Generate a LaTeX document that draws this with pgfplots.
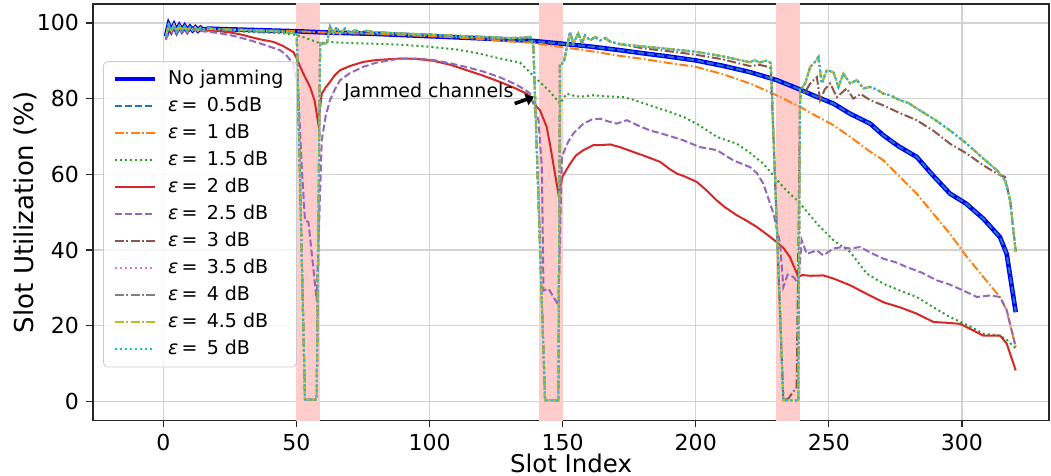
\documentclass[border=0pt]{standalone}
\usepackage{fontspec}
\setmainfont{DejaVu Sans}
\usepackage{pgfplots}
\pgfplotsset{compat=1.18}
\usepackage{pgfplotstable}
\usetikzlibrary{arrows.meta}

\definecolor{c0}{HTML}{1F77B4}
\definecolor{c1}{HTML}{FF7F0E}
\definecolor{c2}{HTML}{2CA02C}
\definecolor{c3}{HTML}{D62728}
\definecolor{c4}{HTML}{9467BD}
\definecolor{c5}{HTML}{8C564B}
\definecolor{c6}{HTML}{E377C2}
\definecolor{c7}{HTML}{7F7F7F}
\definecolor{c8}{HTML}{BCBD22}
\definecolor{c9}{HTML}{17BECF}
\definecolor{spancol}{RGB}{255,204,204}
\definecolor{gridcol}{RGB}{210,210,210}

% no jamming (also eps = 0.5 dB)
\pgfplotstableread{
x y
1 96.5
2 99.5
3 98.0
4 99.4
5 97.8
6 99.2
7 98.0
8 99.1
9 97.9
10 98.9
11 98.1
12 98.8
13 98.0
14 98.7
15 98.2
17 98.5
20 98.4
30 98.2
40 98.0
50 97.8
60 97.5
70 97.3
80 97.1
90 96.8
100 96.5
110 96.2
120 95.9
130 95.6
138 95.3
150 94.5
160 93.8
171.5 92.8
180 92.0
190 91.1
200 90.1
210 88.7
220.4 87.0
230.4 84.9
239.2 82.4
245 80.6
251.7 78.7
258 76.0
265.5 73.4
270.5 70.3
276 67.5
283 64.6
289 59.8
295.5 54.9
301.5 52.3
308 48.3
314.3 43.4
316.8 39.0
320.2 23.6
}\tabN

% eps = 1 dB
\pgfplotstableread{
x y
1 96.5
2 99.5
3 98.0
4 99.4
5 97.8
6 99.2
7 98.0
8 99.1
9 97.9
10 98.9
11 98.1
12 98.8
13 98.0
14 98.7
15 98.2
17 98.5
20 98.4
30 98.2
40 98.0
50 97.8
60 97.5
70 97.3
80 97.1
90 96.8
100 96.5
110 96.2
120 95.7
130 95.1
138 94.8
145 94.1
150 93.6
160 92.6
171.5 91.3
180 90.5
190 89.4
200 88.4
210 86.5
220.4 84.0
230 81.0
239.2 77.8
245 75.5
251.7 73.0
258 69.9
265.5 66.0
270.5 63.7
276 59.8
283 54.9
289 49.8
295.5 44.3
301.5 38.5
308 32.9
314.3 27.6
316.8 24.0
320.2 14.4
}\tabO

% eps = 1.5 dB
\pgfplotstableread{
x y
1 96.5
2 99.4
3 97.8
4 99.3
5 97.7
6 99.1
7 97.9
8 99.0
9 97.8
10 98.8
12 98.6
14 98.4
16 98.2
20 98.1
25 97.9
32.6 97.6
40 97.4
46.4 97.2
50 96.8
54 95.9
58.9 94.6
61.4 95.0
66 94.8
73.9 94.6
80 94.5
90 94.2
100 93.7
110 93.0
118 92.0
126.5 90.6
134 89.5
139 86.0
145 82.0
149 78.7
151.5 81.3
155 80.6
157.8 80.6
161.5 80.9
166 80.6
172.8 80.4
177 79.6
182.8 78.2
189 76.8
195.3 75.2
201 73.1
207.9 69.9
215.4 68.1
220 65.9
225.4 62.8
232.9 56.6
239.2 52.3
245.5 47.0
251.7 42.6
258 39.5
264.2 33.8
270.5 31.1
276 29.5
283 27.6
289 25.0
295.5 22.3
302 20.2
308 17.9
314.3 17.4
316.8 16.3
320.2 14.0
}\tabG

% eps = 2 dB
\pgfplotstableread{
x y
1 95.8
2 99.1
3 97.5
4 99.0
5 97.4
6 98.9
7 97.7
8 98.8
9 97.6
10 98.6
12 98.4
14 98.2
16 98.0
20 97.9
25.1 97.5
30 96.8
32.6 96.3
36 95.7
41.3 95.0
45 93.9
48.8 92.3
50 90.8
51.4 88.4
53 86.0
55.1 83.1
56.8 79.5
58.2 73.4
59.5 81.3
61 83.0
62.6 84.4
64.5 86.3
66.4 87.5
70 88.6
75.1 89.7
80 90.2
88.9 90.6
95 90.5
101.4 90.0
108 88.9
114 87.5
120 86.1
126.5 84.4
132 82.8
136.5 81.3
140.3 77.8
141.5 76.9
144 72.5
145.2 68.1
148.4 54.9
150 59.5
152.8 62.8
155 65.0
157.8 66.4
161.5 67.7
164.1 67.7
167.8 67.9
171.5 67.2
176.6 65.9
181 64.8
186.6 63.3
190 61.5
192.9 60.2
196 59.4
200.4 58.0
204 55.8
207.9 53.1
211 51.3
215.4 49.2
219 47.8
222.9 46.1
227 44.0
230.4 42.1
233 40.5
235.4 38.1
238.5 32.9
240 33.4
243 33.2
247.9 33.3
252 32.4
258 30.7
264 28.5
270.5 26.2
277 24.8
283 23.2
289.3 21.0
294 20.8
299.3 20.5
303 19.2
308 17.4
314.3 17.4
316.8 15.3
320.2 8.2
}\tabR

% eps = 2.5 dB
\pgfplotstableread{
x y
1 95.5
2 98.9
3 97.3
4 98.9
5 97.2
6 98.7
7 97.5
8 98.6
9 97.4
10 98.4
12 98.1
14 97.9
16 97.7
20 97.4
25 96.8
30 95.9
32.6 95.4
38 94.2
43.8 92.8
46 91.6
48.8 89.3
50.7 81.3
52 61.9
53.2 47.8
54.5 47.4
57.6 26.7
59.5 69.0
61 75.5
62.6 79.6
64.5 82.5
66.4 84.9
70 86.7
75.1 88.4
80 89.5
88.9 90.6
95 90.6
101.4 90.2
108 89.3
114 88.3
120 87.2
126.5 85.6
132 83.9
136 82.3
137.8 81.3
140.9 74.3
142.2 61.9
142.8 29.3
144.7 29.8
148.4 25.4
149.7 64.6
152 68.5
154 70.8
157.8 73.4
161 74.5
164.1 74.7
167 74.0
170.3 73.4
174.1 74.3
178 73.0
182.8 71.6
188 70.6
195.3 69.0
201.5 67.2
207.9 66.4
214.1 63.7
220.4 61.9
223 60.3
225.4 57.5
229.2 49.6
231.7 41.7
232.9 30.2
234.5 33.5
236.7 32.9
238.5 31.1
239.8 42.6
241.7 39.0
245.5 39.9
247.9 38.6
251.7 40.4
255 40.8
258 40.4
261.7 40.8
266 39.2
270.5 37.7
275 36.8
279.3 35.5
285 34.0
290.5 32.0
295 31.0
300.5 29.3
305.6 27.6
310.6 28.0
314.3 27.6
316.8 24.2
320.2 14.4
}\tabP

% eps = 3 dB
\pgfplotstableread{
x y
1 96.5
2 99.5
3 98.0
4 99.4
5 97.8
6 99.2
7 98.0
8 99.1
9 97.9
10 98.9
11 98.1
12 98.8
13 98.0
14 98.7
15 98.2
17 98.5
20 98.3
30 98.1
40 97.9
50.1 97.4
53.2 0.5
57.6 0.5
58.9 94.6
61.4 94.6
62.6 99.1
63.9 97.2
65.1 98.9
66.4 97.2
68.3 98.5
70.2 97.3
72 98.1
74 97.4
76 97.9
80 97.5
90 97.2
100 96.9
110 96.6
120 96.3
130 96.0
135 96.1
137.8 96.3
139 93.7
143.4 0.3
148.4 0.3
149 89.3
150.3 89.3
152.8 97.6
154 94.6
155.9 97.2
157.2 94.6
158.4 96.7
160.3 95.4
162.2 96.3
164.1 95.4
166 96.0
168 95.0
171.5 94.4
180 93.3
190 92.5
200 91.6
210 90.4
220.4 88.6
224 88.9
227.3 88.4
228.2 88.0
232.9 0.3
234.8 0.8
237.9 3.8
239.2 80.5
241.1 81.8
243 84.0
245.5 85.7
246.7 79.6
248.5 82.5
250.5 84.0
253 80.4
256.7 82.7
259.2 80.0
262 81.2
265.5 79.6
270.5 78.2
276.6 76.2
283 74.3
289.3 71.5
295.5 68.1
301.8 65.5
308 62.4
313.1 60.2
316.2 59.3
318.1 53.1
320.2 39.5
}\tabB

% eps = 3.5 ... 5 dB
\pgfplotstableread{
x y
1 96.5
2 99.5
3 98.0
4 99.4
5 97.8
6 99.2
7 98.0
8 99.1
9 97.9
10 98.9
11 98.1
12 98.8
13 98.0
14 98.7
15 98.2
17 98.5
20 98.3
30 98.1
40 97.9
50.1 97.4
53.2 0.5
57.6 0.5
58.9 94.6
61.4 94.6
62.6 99.1
63.9 97.2
65.1 98.9
66.4 97.2
68.3 98.5
70.2 97.3
72 98.1
74 97.4
76 97.9
80 97.5
90 97.2
100 96.9
110 96.6
120 96.3
130 96.0
135 96.1
137.8 96.3
139 93.7
143.4 0.3
148.4 0.3
149 89.3
150.3 89.3
152.8 97.6
154 94.6
155.9 97.2
157.2 94.6
158.4 96.7
160.3 95.4
162.2 96.3
164.1 95.4
166 96.0
168 95.0
171.5 94.4
180 93.8
190 93.1
200 92.4
210 91.2
220.4 89.6
222 90.2
224 89.5
226 90.0
227.3 89.9
228.2 89.3
232.9 0.3
238.5 0.3
239.2 82.2
241.1 84.0
243 88.4
244.8 89.7
246.1 91.0
247.3 84.0
249.2 87.5
251.7 87.0
253.6 83.1
255.4 86.6
258 84.0
260.5 84.9
263 82.7
265.5 83.1
268 82.4
270.5 81.3
273 80.9
276.6 79.6
280 78.8
283 77.4
289.3 74.7
295.5 71.6
301.8 68.1
308 64.2
313.1 61.1
316.2 58.4
318.1 53.1
320.2 39.5
}\tabJ

\begin{document}
\begin{tikzpicture}
\begin{axis}[
    scale only axis,
    width=477.5pt, height=208pt,
    xmin=-26.4, xmax=332.7,
    ymin=-5, ymax=105,
    xtick={0,50,...,300},
    ytick={0,20,...,100},
    grid=major,
    major grid style={line width=0.6pt, gridcol},
    axis line style={line width=0.6pt, black!85},
    tick align=outside, tick pos=left,
    major tick length=3.5pt,
    tick style={line width=0.6pt, black!85},
    ticklabel style={font=\fontsize{11}{13}\selectfont},
    /pgf/number format/assume math mode=true,
    xlabel={Slot Index},
    ylabel={Slot Utilization (\%)},
    x label style={font=\fontsize{12.2}{14}\selectfont, inner sep=0pt, at={([yshift=-21.3pt]axis description cs:0.5,0)}, anchor=center},
    y label style={font=\fontsize{13}{15}\selectfont, at={([xshift=-34pt]axis description cs:0,0.5)}, anchor=center},
    legend cell align=left,
    legend image code/.code={\draw[#1] (0pt,0pt) -- (20pt,0pt);},
    legend style={
        at={(axis description cs:0.0105,0.495)}, anchor=west,
        draw={rgb,255:red,204;green,204;blue,204},
        rounded corners=2pt,
        fill=white, fill opacity=0.8, text opacity=1,
        font=\fontsize{9.5}{11}\selectfont,
        inner xsep=4.5pt, inner ysep=2pt,
        row sep=0pt,
        nodes={inner sep=2pt, text height=7.3pt, text depth=2.2pt},
        /tikz/every odd column/.append style={column sep=3.5pt}
    },
    every axis plot/.append style={line width=1pt}
]
% jammed slots
\addplot[fill=spancol, draw=none, forget plot] coordinates {(50,-10) (59,-10) (59,110) (50,110)} -- cycle;
\addplot[fill=spancol, draw=none, forget plot] coordinates {(141,-10) (150,-10) (150,110) (141,110)} -- cycle;
\addplot[fill=spancol, draw=none, forget plot] coordinates {(230,-10) (239,-10) (239,110) (230,110)} -- cycle;

\addplot[blue, line width=2.3pt] table {\tabN};
\addlegendentry{No jamming}
\addplot[c0, dash pattern=on 3.5pt off 1.5pt] table {\tabN};
\addlegendentry{\textit{ε}\,= \,0.5dB}
\addplot[c1, dash pattern=on 4.5pt off 1.3pt on 0.8pt off 1.3pt] table {\tabO};
\addlegendentry{\textit{ε}\,= \,1 dB}
\addplot[c2, dash pattern=on 1pt off 1.5pt] table {\tabG};
\addlegendentry{\textit{ε}\,= \,1.5 dB}
\addplot[c3] table {\tabR};
\addlegendentry{\textit{ε}\,= \,2 dB}
\addplot[c4, dash pattern=on 3.5pt off 1.5pt] table {\tabP};
\addlegendentry{\textit{ε}\,= \,2.5 dB}
\addplot[c5, dash pattern=on 4.5pt off 1.3pt on 0.8pt off 1.3pt] table {\tabB};
\addlegendentry{\textit{ε}\,= \,3 dB}
\addplot[c6, dash pattern=on 1pt off 1.5pt] table {\tabJ};
\addlegendentry{\textit{ε}\,= \,3.5 dB}
\addplot[c7, dash pattern=on 4.5pt off 1.3pt on 0.8pt off 1.3pt] table {\tabJ};
\addlegendentry{\textit{ε}\,= \,4 dB}
\addplot[c8, dash pattern=on 4.5pt off 1.3pt on 0.8pt off 1.3pt] table {\tabJ};
\addlegendentry{\textit{ε}\,= \,4.5 dB}
\addplot[c9, dash pattern=on 1pt off 1.5pt] table {\tabJ};
\addlegendentry{\textit{ε}\,= \,5 dB}

\node[font=\fontsize{9.5}{11}\selectfont] at (axis cs:99.7,81.6) {Jammed channels};
\draw[line width=1.8pt, -{Triangle[length=4pt,width=6pt]}] (axis cs:132,78.7) -- (axis cs:139.2,80.5);
\end{axis}
\pgfresetboundingbox
\path ([xshift=-46.5pt,yshift=-27.5pt]current axis.south west) rectangle ([xshift=1pt,yshift=2pt]current axis.north east);
\end{tikzpicture}
\end{document}
